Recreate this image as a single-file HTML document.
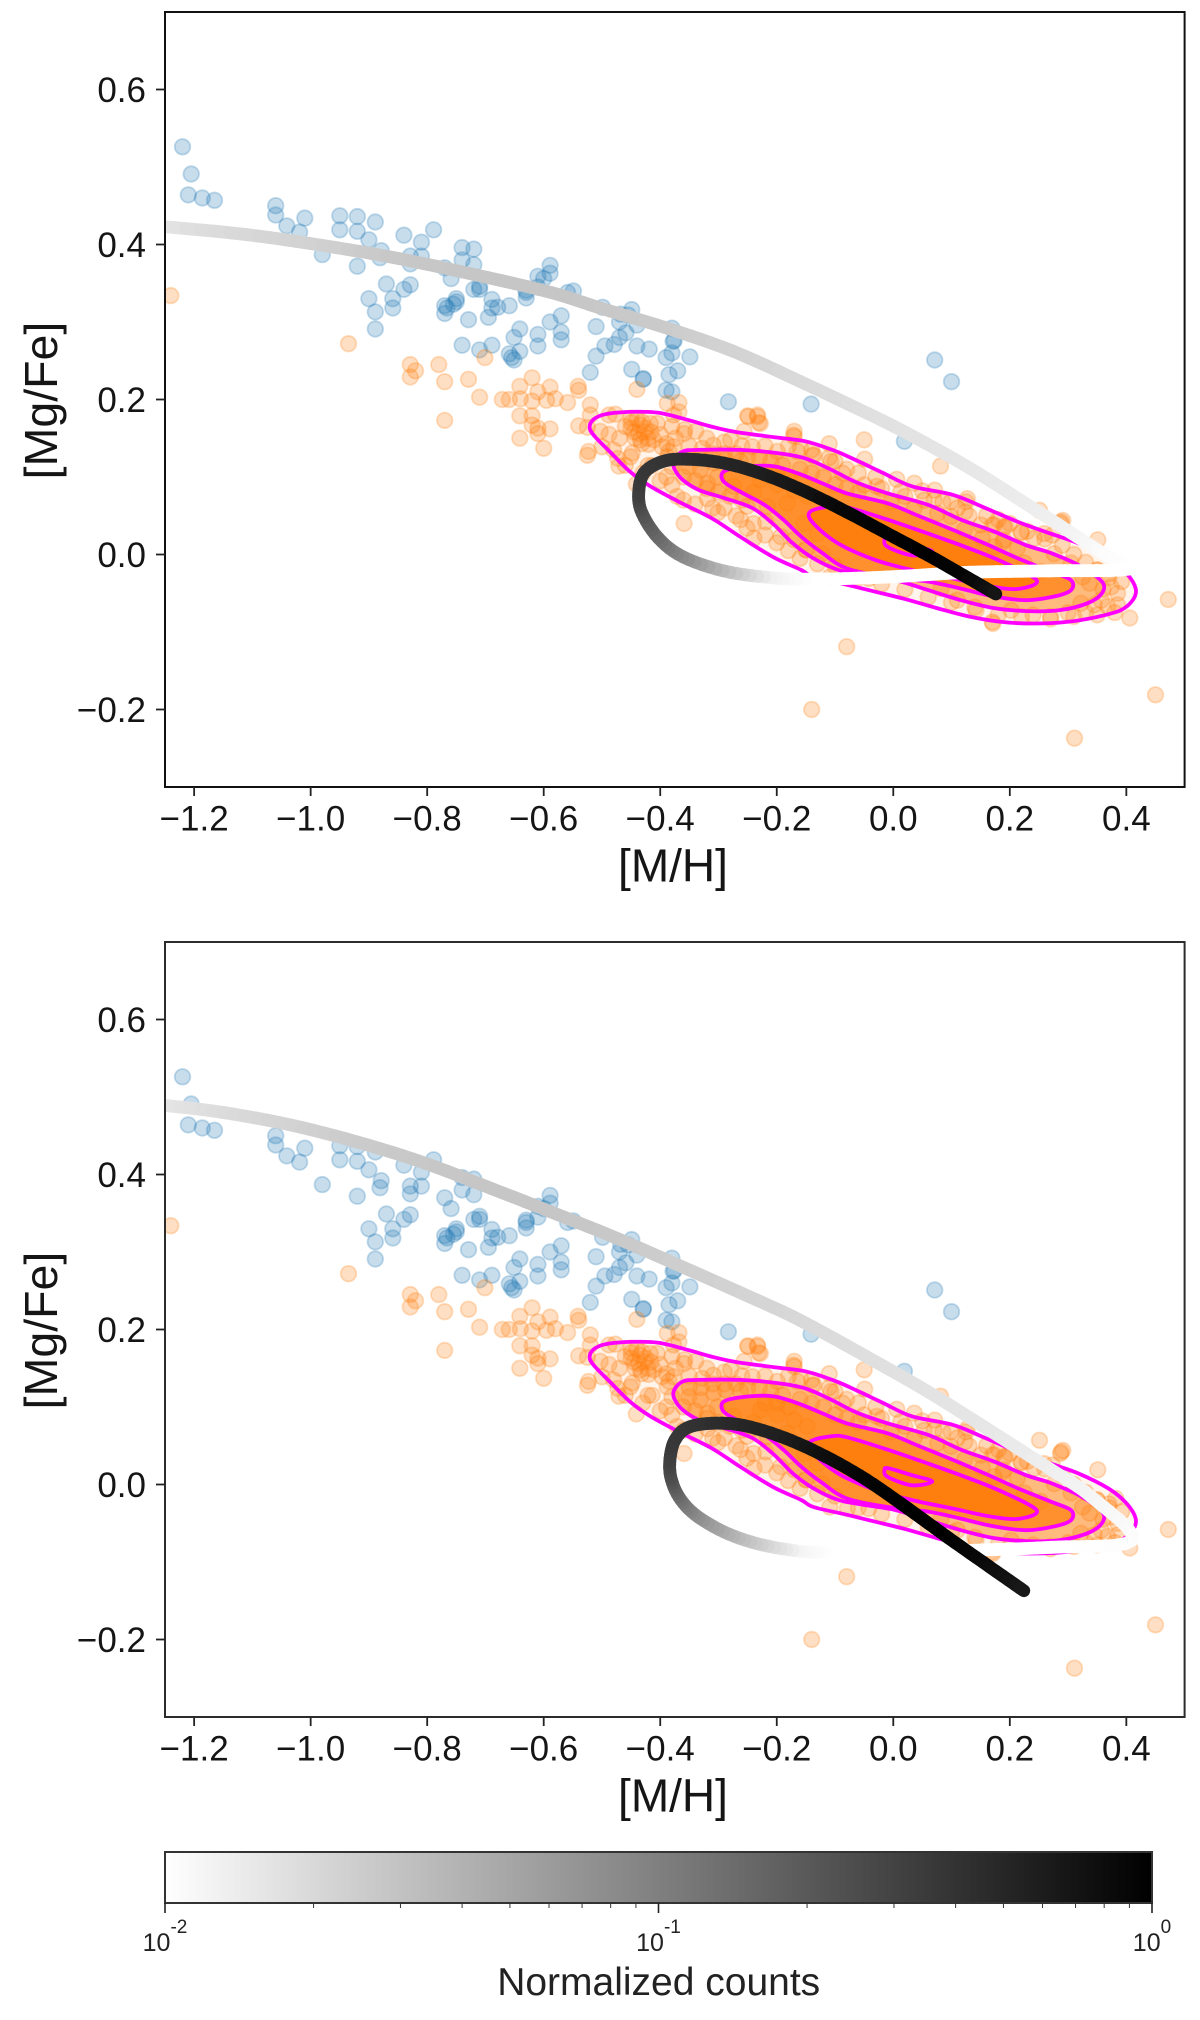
<!DOCTYPE html>
<html lang="en">
<head>
<meta charset="utf-8">
<title>[Mg/Fe] vs [M/H]</title>
<style>
html,body{margin:0;padding:0;background:#fff;width:1200px;height:2020px;overflow:hidden}
svg{display:block}
text{font-family:"Liberation Sans",sans-serif}
</style>
</head>
<body>
<svg id="fig" xmlns="http://www.w3.org/2000/svg" width="1200" height="2020" viewBox="0 0 1200 2020">
<defs>
<linearGradient id="cbar-grad" x1="0" x2="1" y1="0" y2="0"><stop offset="0" stop-color="#fff"/><stop offset="1" stop-color="#000"/></linearGradient>
<clipPath id="clip-0"><rect x="165" y="12" width="1020" height="775"/></clipPath>
<clipPath id="clip-1"><rect x="165" y="942" width="1020" height="775"/></clipPath>
</defs>
<rect x="165" y="1852" width="987" height="51" fill="url(#cbar-grad)"/>
<rect x="165" y="1852" width="987" height="51" fill="none" stroke="#333" stroke-width="2"/>
<text x="658.7" y="1995" font-size="39" text-anchor="middle" fill="#222">Normalized counts</text>
</svg>
<script>
// Values: stellar [M/H], [Mg/Fe] pairs
const bluePoints = [
[-1.220,.526],[-1.205,.491],[-1.210,.464],[-1.186,.460],[-1.165,.457],[-1.060,.450],[-1.060,.438],[-1.041,.424],[-1.010,.434],[-1.019,.416],[-.980,.387],
[-.950,.437],[-.950,.419],[-.920,.436],[-.920,.417],[-.889,.429],[-.900,.406],[-.879,.392],[-.881,.383],[-.920,.372],[-.840,.412],[-.810,.403],[-.789,.419],
[-.829,.385],[-.810,.385],[-.829,.375],[-.870,.349],[-.829,.348],[-.840,.342],[-.900,.330],[-.859,.330],[-.859,.318],[-.889,.313],[-.889,.291],
[-.770,.370],[-.740,.396],[-.720,.394],[-.740,.380],[-.720,.374],[-.759,.356],[-.710,.346],[-.720,.342],[-.710,.342],[-.689,.329],[-.750,.330],[-.750,.326],
[-.755,.323],[-.770,.321],[-.770,.311],[-.766,.318],[-.679,.319],[-.659,.321],[-.689,.318],[-.695,.306],[-.729,.303],
[-.589,.373],[-.589,.363],[-.610,.359],[-.600,.356],[-.610,.345],[-.630,.341],[-.630,.338],[-.630,.331],[-.559,.338],[-.549,.340],[-.499,.319],[-.570,.308],
[-.589,.300],[-.641,.291],[-.570,.287],[-.570,.277],[-.610,.284],[-.610,.269],[-.651,.280],[-.641,.262],[-.659,.259],[-.655,.254],[-.651,.251],[-.740,.270],[-.710,.264],[-.689,.270],
[-.468,.310],[-.449,.316],[-.455,.309],[-.470,.300],[-.440,.296],[-.510,.294],[-.459,.286],[-.470,.280],[-.479,.271],[-.495,.269],[-.440,.269],[-.419,.265],[-.510,.256],
[-.380,.292],[-.378,.275],[-.376,.276],[-.380,.260],[-.390,.254],[-.349,.255],[-.520,.235],[-.449,.239],[-.429,.226],[-.429,.227],[-.370,.237],[-.385,.232],[-.390,.212],[-.380,.210],
[-.283,.197],[-.141,.194],[.019,.146],[.071,.251],[.100,.223]
];
const orangePoints = [
[-1.240,.334],[-.935,.272],[-.829,.245],[-.820,.237],[-.829,.229],[-.780,.245],[-.770,.223],[-.729,.226],[-.701,.254],[-.710,.203],[-.770,.173],
[-.641,.217],[-.620,.228],[-.610,.210],[-.589,.216],[-.541,.217],[-.671,.200],[-.659,.200],[-.640,.201],[-.620,.198],[-.595,.199],[-.580,.201],[-.559,.196],
[-.641,.179],[-.620,.179],[-.620,.167],[-.610,.163],[-.610,.156],[-.589,.162],[-.641,.150],[-.600,.137],[-.440,.213],
[-.540,.212],[-.520,.193],[-.520,.180],[-.540,.166],[-.525,.164],[-.488,.180],[-.477,.181],[-.488,.155],[-.503,.159],[-.523,.133],[-.525,.128],[-.500,.139],
[-.450,.176],[-.431,.171],[-.417,.169],[-.450,.163],[-.434,.167],[-.425,.163],[-.405,.169],[-.443,.150],[-.434,.148],[-.421,.150],[-.411,.148],[-.437,.156],
[-.450,.170],[-.440,.175],[-.428,.158],[-.416,.158],[-.445,.158],[-.432,.143],[-.420,.142],
[-.389,.143],[-.397,.139],[-.385,.133],[-.377,.139],[-.374,.150],[-.359,.156],[-.339,.159],[-.358,.161],[-.388,.195],[-.368,.196],[-.377,.180],[-.368,.184],
[-.448,.131],[-.451,.126],[-.473,.124],[-.471,.114],[-.421,.115],[-.414,.115],[-.388,.126],[-.380,.113],[-.389,.100],[-.441,.091],[-.371,.075],[-.319,.072],
[-.301,.054],[-.359,.040],[-.262,.045],[-.251,.034],[-.239,.021],[-.219,.042],[-.193,.023],[-.170,.019],[-.150,.006],
[-.328,.137],[-.309,.141],[-.279,.148],[-.242,.139],[-.199,.133],[-.256,.159],[-.249,.178],[-.233,.178],[-.228,.169],[-.233,.180],[-.170,.159],[-.170,.152],[-.159,.137],[-.139,.128],
[-.351,.113],[-.331,.109],[-.308,.118],[-.288,.122],[-.262,.120],[-.302,.100],[-.319,.092],[-.274,.088],[-.228,.096],[-.199,.090],[-.170,.083],[-.148,.075],
[-.251,.062],[-.216,.062],[-.182,.066],[-.153,.040],[-.130,.027],
[-.350,.125],[-.330,.125],[-.310,.130],[-.290,.130],[-.270,.130],[-.250,.125],[-.230,.125],[-.210,.120],[-.190,.115],[-.360,.100],[-.340,.095],[-.320,.085],[-.300,.080],
[-.280,.075],[-.260,.070],[-.240,.080],[-.220,.105],[-.200,.105],[-.180,.100],[-.160,.110],[-.140,.105],[-.120,.100],[-.100,.090],[-.080,.085],[-.060,.080],
[-.250,.179],[-.231,.170],[-.171,.154],[-.110,.143],[-.050,.148],[-.049,.123],[.081,.114],[-.080,-.119],[-.140,-.200],[.311,-.237],[.450,-.181],[.472,-.058],[.406,-.082],[.171,-.089],
[.006,.097],[.036,.092],[-.028,.088],[.013,.081],[.071,.083],[.053,.070],[.085,.068],[.099,.068],[.125,.068],[.123,.055],[.150,.038],[.173,.038],[.192,.035],[.220,.028],[.242,.021],
[.076,.053],[.099,.049],[.122,.032],[.153,.021],[.188,.016],[.213,.008],[-.079,-.031],[-.109,-.029],[-.150,.006],[-.122,.001],[-.042,-.031],[.142,-.072],[.110,-.059],[.082,-.044],[.170,-.087],[.202,-.072],
[-.107,.120],[-.087,.105],[-.136,.128],[-.165,.133],[-.050,.090],[-.004,.068],[.036,.060],
[.251,.057],[.288,.042],[.291,.044],[.287,.040],[.351,.019],[.382,-.018],[.273,.025],[.259,.027],[.219,.029],[.190,.036],[.170,.038],[.127,.072],
[.325,-.029],[.337,-.037],[.305,-.011],[.276,.001],[.253,-.022],[.225,-.011],[.190,.019],[.173,.010],[.357,-.059],[.368,-.067],[.345,-.065],[.385,-.050],[.374,-.042],[.322,-.063],
[.370,-.030],[.360,-.045],[.385,-.065],[.392,-.035],[.350,-.020],[.330,-.075],[.300,-.075],[.270,-.080],[.240,-.078],
[-.100,.120],[-.080,.110],[-.060,.105],[-.030,.100],[-.020,.085],[.020,.075],[.050,.082],[.070,.070],[.110,.060],[.130,.050],[.160,.050],[.180,.045],[.200,.040],[.230,.030],[.260,.020],[.290,.012],[.310,.000],[.330,-.010],[.350,-.020],[.370,-.025],
[.380,-.075],[.350,-.078],[.310,-.080],[.270,-.083],[.220,-.080],[.180,-.078],[.140,-.068],[.100,-.062],[.060,-.055],[.020,-.045],[-.020,-.038],[-.060,-.030],[-.100,-.015],[-.130,-.012],[-.160,-.005],[-.180,.005],[-.200,.015],[-.220,.025],[-.240,.040],[-.270,.050],[-.290,.060],[-.310,.060],[-.340,.065],[-.360,.070],[-.380,.090],[-.400,.095],[-.430,.105],[-.460,.115],
[-.480,.135],[-.470,.150],[-.460,.165],[-.400,.155],[-.380,.165],[-.350,.140],[-.320,.150],[-.290,.145],[-.260,.140],[-.220,.140],[-.180,.140],[-.140,.135],[-.110,.125]
];

// Density contour levels, [M/H], [Mg/Fe] pairs
const contourOuter = [[-.521,.163],[-.515,.174],[-.494,.181],[-.452,.184],[-.403,.183],[-.354,.174],[-.312,.165],[-.270,.158],[-.200,.151],[-.151,.146],[-.101,.134],[-.059,.120],[-.017,.105],[.032,.088],[.102,.077],[.158,.060],[.214,.042],[.270,.027],[.319,.014],[.369,-.005],[.400,-.024],[.416,-.044],[.411,-.059],[.390,-.072],[.347,-.081],[.298,-.087],[.242,-.089],[.186,-.087],[.130,-.080],[.074,-.069],[.018,-.057],[-.031,-.048],[-.080,-.039],[-.137,-.029],[-.158,-.020],[-.207,-.003],[-.263,.023],[-.312,.047],[-.368,.068],[-.417,.088],[-.452,.107],[-.487,.133],[-.512,.152]];
const contourSecond = [[-.361,.133],[-.333,.135],[-.263,.135],[-.200,.131],[-.151,.124],[-.108,.110],[-.066,.094],[-.010,.079],[.060,.064],[.116,.045],[.172,.030],[.228,.012],[.270,.002],[.319,-.014],[.358,-.035],[.358,-.050],[.333,-.063],[.284,-.072],[.228,-.073],[.172,-.069],[.116,-.059],[.060,-.046],[.004,-.033],[-.052,-.026],[-.094,-.020],[-.137,-.005],[-.172,.014],[-.207,.040],[-.242,.060],[-.291,.073],[-.333,.083],[-.361,.096],[-.376,.111],[-.376,.122]];
const contourThird = [[-.291,.107],[-.256,.113],[-.207,.114],[-.165,.105],[-.122,.092],[-.080,.079],[-.010,.066],[.046,.049],[.102,.032],[.158,.014],[.214,-.005],[.270,-.022],[.305,-.033],[.305,-.046],[.277,-.054],[.228,-.059],[.172,-.054],[.116,-.044],[.060,-.035],[-.010,-.029],[-.080,-.018],[-.122,.002],[-.158,.023],[-.189,.045],[-.221,.064],[-.263,.081],[-.291,.094]];
const contourFourth = [[-.143,.055],[-.108,.062],[-.080,.061],[-.010,.045],[.060,.027],[.130,.008],[.186,-.009],[.246,-.033],[.218,-.044],[.172,-.042],[.102,-.031],[.032,-.020],[-.031,-.007],[-.094,.014],[-.137,.040]];
const contourPeak = [[-.015,.019],[-.008,.021],[.032,.012],[.067,.004],[.032,-.001],[-.010,.010]];

// Model track, upper panel
const trackTopMH = [-1.25,-1.113,-.981,-.85,-.718,-.587,-.503,-.388,-.274,-.159,-.044,.025,.13,.235,.305,.369,.403,.27,.13,-.01,-.15,-.221,-.292,-.361,-.403,-.431,-.437,-.428,-.396,-.354,-.291,-.221,-.15,-.08,-.01,.06,.13,.176];
const trackTopMgFe = [.423,.413,.399,.382,.361,.338,.318,.292,.262,.223,.182,.156,.112,.062,.028,-.003,-.019,-.021,-.023,-.029,-.032,-.029,-.021,-.003,.021,.053,.079,.105,.12,.123,.118,.103,.081,.055,.027,-.001,-.031,-.051];
const trackTopCounts = [.0157,.02,.0225,.027,.028,.028,.0275,.026,.0225,.02,.0178,.0169,.0157,.0141,.0127,.0106,.01,.01,.01,.01,.01,.0131,.0312,.0741,.1324,.2154,.3135,.3631,.3828,.4223,.4877,.5623,.6837,.867,.9462,1,.912,.6837];

// Model track, lower panel
const trackBottomMH = [-1.248,-1.15,-1.035,-.92,-.805,-.69,-.575,-.46,-.228,-.15,-.046,.059,.165,.271,.34,.41,.271,.13,-.01,-.116,-.172,-.235,-.291,-.34,-.368,-.382,-.383,-.375,-.354,-.312,-.256,-.186,-.116,-.046,.025,.095,.165,.224];
const trackBottomMgFe = [.489,.48,.464,.442,.415,.382,.348,.313,.236,.208,.165,.12,.07,.019,-.016,-.072,-.081,-.085,-.088,-.088,-.085,-.076,-.061,-.039,-.016,.01,.034,.057,.073,.079,.076,.06,.036,.006,-.031,-.069,-.106,-.137];
const trackBottomCounts = [.0152,.0185,.0218,.0251,.027,.028,.028,.027,.0218,.0202,.0181,.0169,.0157,.0136,.0122,.0106,.01,.01,.01,.01,.0122,.0234,.0417,.0741,.1324,.236,.3135,.3631,.3828,.4223,.4877,.5623,.749,.9,1,1,.835,.648];

// Axis ticks
const xTickValues = [-1.2,-1.0,-0.8,-0.6,-0.4,-0.2,0.0,0.2,0.4];
const xTickLabels = ['\u22121.2','\u22121.0','\u22120.8','\u22120.6','\u22120.4','\u22120.2','0.0','0.2','0.4'];
const yTickValues = [0.6,0.4,0.2,0.0,-0.2];
const yTickLabels = ['0.6','0.4','0.2','0.0','\u22120.2'];
const cbarMajorTicks = [0.01,0.1,1];
const cbarMajorExponents = ['-2','-1','0'];
const cbarMinorTicks = [.02,.03,.04,.05,.06,.07,.08,.09,.2,.3,.4,.5,.6,.7,.8,.9];

const SVGNS = 'http://www.w3.org/2000/svg';
const fig = document.getElementById('fig');
const X_LEFT = 165, X_RIGHT = 1184.6, X_MIN = -1.25, X_MAX = 0.5;
const PANEL_TOPS = [12, 942], PANEL_H = 775, Y_MIN = -0.3, Y_MAX = 0.7;
const CB_LEFT = 165, CB_RIGHT = 1152, CB_TOP = 1852, CB_BOTTOM = 1903;

function xScale(v){ return X_LEFT + (v - X_MIN) / (X_MAX - X_MIN) * (X_RIGHT - X_LEFT); }
function yScale(v, p){ return PANEL_TOPS[p] + (Y_MAX - v) / (Y_MAX - Y_MIN) * PANEL_H; }
function cbarScale(c){ return CB_LEFT + (Math.log10(c) + 2) / 2 * (CB_RIGHT - CB_LEFT); }
function grayOf(c){
  const t = Math.min(1, Math.max(0, (Math.log10(c) + 2) / 2));
  const g = Math.round(255 * (1 - t));
  return 'rgb(' + g + ',' + g + ',' + g + ')';
}
function make(tag, attrs, parent){
  const n = document.createElementNS(SVGNS, tag);
  for (const k in attrs) n.setAttribute(k, attrs[k]);
  parent.appendChild(n);
  return n;
}
function contourPath(pts, p){
  // closed Catmull-Rom outline through the read contour vertices
  const P = pts.map(q => [xScale(q[0]), yScale(q[1], p)]);
  const n = P.length;
  let d = 'M' + P[0][0].toFixed(1) + ' ' + P[0][1].toFixed(1);
  for (let i = 0; i < n; i++){
    const a = P[(i - 1 + n) % n], b = P[i], c = P[(i + 1) % n], e = P[(i + 2) % n];
    d += 'C' + (b[0] + (c[0] - a[0]) / 6).toFixed(1) + ' ' + (b[1] + (c[1] - a[1]) / 6).toFixed(1) + ' ' +
         (c[0] - (e[0] - b[0]) / 6).toFixed(1) + ' ' + (c[1] - (e[1] - b[1]) / 6).toFixed(1) + ' ' +
         c[0].toFixed(1) + ' ' + c[1].toFixed(1);
  }
  return d + 'Z';
}
function drawScatter(points, color, name, p, parent){
  points.forEach(q => {
    const c = make('circle', {cx: xScale(q[0]).toFixed(1), cy: yScale(q[1], p).toFixed(1), r: 7.8, fill: color, 'fill-opacity': .25, stroke: color, 'stroke-opacity': .25, 'stroke-width': 1.8}, parent);
    
    
  });
}
function drawTrack(xs, ys, cs, p, parent){
  const P = xs.map((x, i) => [xScale(x), yScale(ys[i], p)]);
  const STEPS = 6;
  for (let i = 0; i < P.length - 1; i++){
    const a = P[Math.max(i - 1, 0)], b = P[i], c = P[i + 1], e = P[Math.min(i + 2, P.length - 1)];
    let prev = b;
    for (let s = 1; s <= STEPS; s++){
      const t = s / STEPS, t2 = t * t, t3 = t2 * t;
      const q = [0, 1].map(k => 0.5 * (2 * b[k] + (c[k] - a[k]) * t + (2 * a[k] - 5 * b[k] + 4 * c[k] - e[k]) * t2 + (3 * b[k] - a[k] - 3 * c[k] + e[k]) * t3));
      const count = Math.pow(10, Math.log10(cs[i]) + (Math.log10(cs[i + 1]) - Math.log10(cs[i])) * t);
      const seg = make('line', {x1: prev[0].toFixed(1), y1: prev[1].toFixed(1), x2: q[0].toFixed(1), y2: q[1].toFixed(1), stroke: grayOf(count), 'stroke-width': 12.8, 'stroke-linecap': 'round'}, parent);
      
      
      prev = q;
    }
  }
}
function drawPanel(p, tx, ty){
  const top = PANEL_TOPS[p], bottom = top + PANEL_H;
  const g = make('g', {'clip-path': 'url(#clip-' + p + ')'}, fig);
  
  

  const fills = [[contourOuter, .08], [contourSecond, .5], [contourThird, .72], [contourFourth, 1]];
  fills.forEach(f => {
    const a = make('path', {d: contourPath(f[0], p), fill: '#ff7f0e', 'fill-opacity': f[1], stroke: 'none'}, g);
    
    
  });
  drawScatter(bluePoints, '#1f77b4', 'blue-star-point', p, g);
  drawScatter(orangePoints, '#ff7f0e', 'orange-star-point', p, g);
  [contourOuter, contourSecond, contourThird, contourFourth, contourPeak].forEach(level => {
    const l = make('path', {d: contourPath(level, p), fill: 'none', stroke: '#ff00ff', 'stroke-width': 3.8, 'stroke-linejoin': 'round'}, g);
    
    
  });
  drawTrack(tx, ty, p === 0 ? trackTopCounts : trackBottomCounts, p, g);

  const frame = make('rect', {x: X_LEFT, y: top, width: X_RIGHT - X_LEFT, height: PANEL_H, fill: 'none', stroke: p === 0 ? '#111' : '#2c2c2c', 'stroke-width': 2}, fig);
  
  

  xTickValues.forEach((v, i) => {
    const x = xScale(v);
    const t = make('line', {x1: x, x2: x, y1: bottom, y2: bottom + 9, stroke: '#222', 'stroke-width': 1.8}, fig);
    
    
    const lab = make('text', {x: x, y: bottom + 43.5, 'font-size': 35, 'text-anchor': 'middle', fill: '#151515'}, fig);
    lab.textContent = xTickLabels[i];
    
    
  });
  yTickValues.forEach((v, i) => {
    const y = yScale(v, p);
    const t = make('line', {x1: X_LEFT - 9, x2: X_LEFT, y1: y, y2: y, stroke: '#222', 'stroke-width': 1.8}, fig);
    
    
    const lab = make('text', {x: 146, y: y + 12.7, 'font-size': 35, 'text-anchor': 'end', fill: '#151515'}, fig);
    lab.textContent = yTickLabels[i];
    
    
  });
  const xt = make('text', {x: 673, y: bottom + 94.5, 'font-size': 46, 'text-anchor': 'middle', fill: '#151515'}, fig);
  xt.textContent = '[M/H]';
  
  
  const cy = top + PANEL_H / 2 + 1;
  const yt = make('text', {x: 0, y: 0, transform: 'translate(57 ' + cy + ') rotate(-90)', 'font-size': 46.5, 'text-anchor': 'middle', fill: '#151515'}, fig);
  yt.textContent = '[Mg/Fe]';
  
  
}
function drawColorbar(){
  cbarMinorTicks.forEach(c => {
    const x = cbarScale(c);
    const t = make('line', {x1: x, x2: x, y1: CB_BOTTOM, y2: CB_BOTTOM + 5, stroke: '#333', 'stroke-width': 1}, fig);
    
    
  });
  cbarMajorTicks.forEach((c, i) => {
    const x = cbarScale(c);
    const t = make('line', {x1: x, x2: x, y1: CB_BOTTOM, y2: CB_BOTTOM + 10, stroke: '#222', 'stroke-width': 1.6}, fig);
    
    
    const lab = make('text', {x: x, y: 1951, 'font-size': 25, 'text-anchor': 'middle', fill: '#222'}, fig);
    
    
    const base = make('tspan', {}, lab);
    base.textContent = '10';
    const exp = make('tspan', {dy: -18, 'font-size': 19}, lab);
    exp.textContent = cbarMajorExponents[i];
  });
}
drawPanel(0, trackTopMH, trackTopMgFe);
drawPanel(1, trackBottomMH, trackBottomMgFe);
drawColorbar();
</script>
</body>
</html>
